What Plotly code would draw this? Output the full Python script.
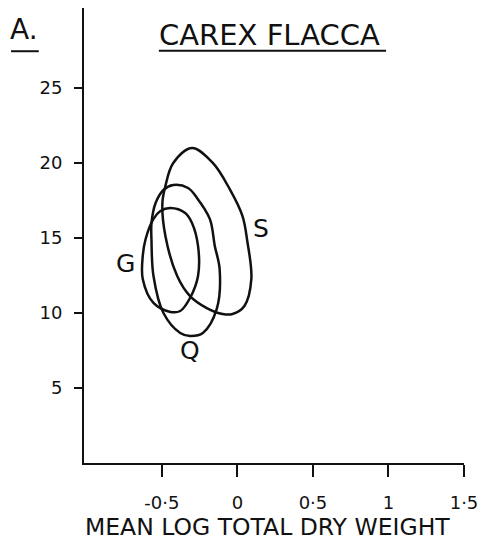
import plotly.graph_objects as go

# Contour outlines of the three populations (x = mean log total dry weight, y = value)
s_x = [-0.30, -0.163, -0.052, 0.033, 0.065, 0.092, 0.046, -0.033, -0.098, -0.203,
       -0.314, -0.399, -0.477, -0.497, -0.477, -0.425]
s_y = [21.0, 20.0, 18.27, 16.47, 14.8, 12.27, 10.47, 9.93, 9.93, 10.33,
       11.13, 12.47, 15.13, 17.33, 18.47, 20.0]

q_x = [-0.425, -0.327, -0.268, -0.183, -0.150, -0.118, -0.137, -0.229, -0.314, -0.379,
       -0.490, -0.556, -0.569, -0.569, -0.542, -0.490]
q_y = [18.53, 18.33, 17.67, 16.27, 14.47, 12.93, 10.27, 8.67, 8.47, 8.67,
       10.0, 12.47, 14.8, 16.0, 17.33, 18.2]

g_x = [-0.444, -0.346, -0.301, -0.261, -0.261, -0.314, -0.379, -0.444, -0.556, -0.627,
       -0.627, -0.608, -0.556, -0.510]
g_y = [17.0, 16.67, 16.0, 14.47, 12.47, 11.0, 10.13, 10.07, 10.67, 12.27,
       13.8, 14.93, 16.27, 16.8]

curve_names = ["S", "Q", "G"]
label_x = [0.157, -0.314, -0.739]
label_y = [15.6, 7.47, 13.33]

x_tickvals = [-0.5, 0, 0.5, 1, 1.5]
x_ticktext = ["-0·5", "0", "0·5", "1", "1·5"]
y_tickvals = [5, 10, 15, 20, 25]
y_ticktext = ["5", "10", "15", "20", "25"]

FONT = "DejaVu Sans"
INK = "#111111"

fig = go.Figure()
for name, xs, ys in zip(curve_names, [s_x, q_x, g_x], [s_y, q_y, g_y]):
    fig.add_trace(go.Scatter(
        x=xs + xs[:1], y=ys + ys[:1], mode="lines", name=name,
        line=dict(color=INK, width=2.5, shape="spline", smoothing=1.0),
        showlegend=False, hoverinfo="skip",
    ))

for name, lx, ly in zip(curve_names, label_x, label_y):
    fig.add_annotation(x=lx, y=ly, text=name, showarrow=False,
                       font=dict(family=FONT, size=25, color=INK))

# Heading, panel letter and the x-axis caption
fig.add_annotation(xref="paper", yref="paper", x=0.488, y=0.941, text="CAREX FLACCA",
                   showarrow=False, xanchor="center", yanchor="middle",
                   font=dict(family=FONT, size=29, color=INK))
fig.add_annotation(xref="paper", yref="paper", x=-0.158, y=0.952, text="A.",
                   showarrow=False, xanchor="center", yanchor="middle",
                   font=dict(family=FONT, size=28, color=INK))
fig.add_annotation(xref="paper", yref="paper", x=0.483, y=-0.141,
                   text="MEAN LOG TOTAL DRY WEIGHT",
                   showarrow=False, xanchor="center", yanchor="middle",
                   font=dict(family=FONT, size=23.5, color=INK))

fig.add_shape(type="line", xref="paper", yref="paper", x0=0.197, x1=0.795, y0=0.906, y1=0.906,
              line=dict(color=INK, width=2))
fig.add_shape(type="line", xref="paper", yref="paper", x0=-0.192, x1=-0.119, y0=0.905, y1=0.905,
              line=dict(color=INK, width=2))

fig.update_xaxes(
    range=[-1.016, 1.5], showgrid=False, zeroline=False,
    showline=True, linecolor=INK, linewidth=2,
    ticks="outside", ticklen=12, tickwidth=2, tickcolor=INK,
    tickvals=x_tickvals, ticktext=x_ticktext, ticklabelstandoff=10,
    tickfont=dict(family=FONT, size=18, color=INK),
)
fig.update_yaxes(
    range=[0, 30.33], showgrid=False, zeroline=False,
    showline=True, linecolor=INK, linewidth=2,
    ticks="outside", ticklen=8, tickwidth=2, tickcolor=INK,
    tickvals=y_tickvals, ticktext=y_ticktext, ticklabelstandoff=8,
    tickfont=dict(family=FONT, size=18, color=INK),
)

fig.update_layout(
    width=486, height=545,
    margin=dict(l=84, r=17, t=8, b=82),
    paper_bgcolor="white", plot_bgcolor="white",
)

fig.write_html("out.html")
